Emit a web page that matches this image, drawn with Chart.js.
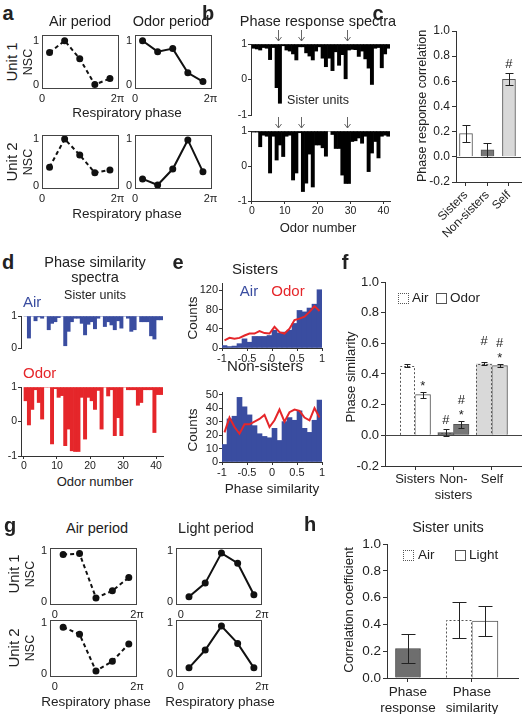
<!DOCTYPE html>
<html>
<head>
<meta charset="utf-8">
<script src="https://cdn.jsdelivr.net/npm/chart.js@4.4.1/dist/chart.umd.min.js"></script>
<style>
  body { margin: 0; width: 522px; height: 716px; position: relative; overflow: hidden; background: #fff;
         font-family: "Liberation Sans", Arial, Helvetica, sans-serif; color: #222; }
  .tx { position: absolute; white-space: nowrap; line-height: 1; }
  .sq { position: absolute; width: 9px; height: 9px; border: 1px solid #555; background: #fff; }
  canvas { position: absolute; }
</style>
</head>
<body>
<script>
'use strict';

// ---- data -------------------------------------------------------------

// a, g: normalized spike count (NSC) per respiratory phase bin
const phaseBins = [0.1, 0.3, 0.5, 0.7, 0.9];   // fraction of 2π
const aU1Air  = [0.73, 1.0, 0.59, 0.0, 0.14];
const aU1Odor = [1.0, 0.75, 0.82, 0.27, 0.07];
const aU2Air  = [0.40, 1.0, 0.66, 0.28, 0.34];
const aU2Odor = [0.15, 0.02, 0.36, 0.98, 0.30];
const gU1Air   = [0.93, 0.95, 0.08, 0.22, 0.48];
const gU1Light = [0.10, 0.37, 0.96, 0.76, 0.14];
const gU2Air   = [0.92, 0.78, 0.06, 0.25, 0.59];
const gU2Light = [0.12, 0.47, 0.94, 0.60, 0.12];

// b: phase response spectra of two sister units (42 odors)
const bUnit1 = [0.88, 0.86, 0.83, 0.90, 0.88, 0.56, 0.90, -0.23, -0.67, 0.95, 0.83, 0.80, 0.72, 0.55,
                0.92, 0.92, 0.75, 0.66, 0.55, 0.80, 0.92, 0.60, 0.36, 0.60, 0.25, 0.78, 0.40, 0.70,
                0.02, 0.83, 0.85, 0.84, 0.65, 0.80, 0.58, 0.32, -0.14, 0.88, 0.90, 0.33, 0.72, 0.88];
const bUnit2 = [0.97, 0.97, 0.55, 0.88, 0.85, -0.20, 0.85, 0.17, 0.60, 0.27, 0.85, 0.88, -0.40, -0.20,
                0.95, -0.73, -0.49, 0.34, -0.60, 0.60, 0.60, 0.52, 0.28, 1.00, 0.90, 0.50, 0.50, -0.26,
                -0.50, -0.50, 0.70, 0.72, 0.80, 0.65, 0.85, -0.16, 0.37, 0.70, 0.23, 0.85, 0.88, 0.85];
const arrowOdors = [8, 15, 29];
const odorTicks = [0, 10, 20, 30, 40];

// d: phase similarity spectra of sister units
const dAir  = [1.00, 0.31, 1.00, 0.85, 0.97, 0.93, 1.00, 0.57, 0.77, 0.82, 0.95, 1.00, 0.07, 0.52,
               0.82, 0.93, 0.93, 0.77, 0.41, 0.74, 0.82, 0.60, 0.93, 1.00, 0.67, 0.82, 0.72, 0.57,
               0.85, 0.62, 1.00, 0.93, 0.52, 0.57, 1.00, 0.82, 0.82, 0.82, 0.38, 0.28, 0.88, 0.88];
const dOdor = [0.60, -0.10, 0.35, 0.92, 0.55, 0.07, 1.00, 1.00, -0.65, 0.95, 0.70, 0.75, -0.70, -0.22,
               -0.85, -0.87, -0.87, 0.70, -0.51, 0.70, 0.60, 0.35, 0.90, -0.22, 1.00, 0.74, 0.92, -0.41,
               0.11, -0.41, 1.00, 0.92, 0.92, 0.92, 0.47, 0.55, 0.92, 0.92, 0.92, -0.32, 0.78, 0.78];

// e: phase similarity histograms
const simBins = [-0.95, -0.85, -0.75, -0.65, -0.55, -0.45, -0.35, -0.25, -0.15, -0.05,
                 0.05, 0.15, 0.25, 0.35, 0.45, 0.55, 0.65, 0.75, 0.85, 0.95];
const sisAir  = [5, 3, 4, 9, 19, 12, 24, 24, 24, 26, 37, 31, 33, 37, 51, 78, 75, 83, 91, 121];
const sisOdor = [16, 21, 19, 21, 26, 30, 30, 35, 31, 30, 44, 33, 30, 40, 58, 61, 65, 75, 87, 77];
const nonAir  = [13, 32, 34, 48, 41, 35, 27, 21, 19, 18, 25, 16, 30, 33, 31, 38, 25, 22, 31, 46];
const nonOdor = [22, 33, 26, 21, 28, 28, 30, 32, 35, 26, 31, 39, 30, 37, 39, 38, 33, 31, 40, 33];
const simTicks = [-1, -0.5, 0, 0.5, 1];

// c, f: group means and SEM
const groups = ['Sisters', 'Non-sisters', 'Self'];
const cMean = [0.185, 0.055, 0.615];
const cErr  = [0.065, 0.055, 0.048];
const cMarks = ['', '', '#'];
const fAir  = [0.455, 0.018, 0.467];
const fAirErr = [0.012, 0.025, 0.010];
const fAirMarks = ['', '#', '# '];
const fOdor = [0.265, 0.072, 0.455];
const fOdorErr = [0.020, 0.022, 0.012];
const fOdorMarks = ['*', '#*', '#*'];
const corrTicks = [-0.2, 0, 0.2, 0.4, 0.6, 0.8, 1.0];

// h: sister units, air vs light
const hGroups = [['Phase', 'response'], ['Phase', 'similarity']];
const hResp = [0.22, null];
const hRespErr = [0.11, 0];
const hAir = [null, 0.435];
const hAirErr = [0, 0.135];
const hLight = [null, 0.425];
const hLightErr = [0, 0.115];
const hTicks = [0, 0.2, 0.4, 0.6, 0.8, 1.0];

// ---- style ------------------------------------------------------------
const FONT = '"Liberation Sans", Arial, Helvetica, sans-serif';
const BLUE = '#3a4da0', RED = '#e5262a';
const groupFill = ['#ffffff', '#777777', '#d9d9d9'];
Chart.defaults.font.family = FONT;
Chart.defaults.font.size = 11;
Chart.defaults.color = '#222';
Chart.defaults.plugins.legend.display = false;
Chart.defaults.plugins.tooltip.enabled = false;

// frame, zero line, arrows, dashed bar outlines, error bars and marks
const extras = {
  id: 'extras',
  afterDatasetsDraw(chart, args, opts) {
    const ctx = chart.ctx, ca = chart.chartArea;
    const xs = chart.scales.x, ys = chart.scales.y;
    const seg = (x0, y0, x1, y1) => { ctx.beginPath(); ctx.moveTo(x0, y0); ctx.lineTo(x1, y1); ctx.stroke(); };
    ctx.save();
    ctx.lineWidth = 1;
    ctx.strokeStyle = '#444';
    if (opts.frame) ctx.strokeRect(ca.left + 0.5, ca.top + 0.5, ca.width - 1, ca.height - 1);
    if (opts.zero) {
      const y = Math.round(ys.getPixelForValue(0)) + 0.5;
      seg(ca.left, y, ca.right, y);
    }
    (opts.arrows || []).forEach(n => {
      const x = Math.round(xs.getPixelForValue(n)) + 0.5;
      const y0 = ca.top - 14, y1 = ca.top - 3;
      ctx.strokeStyle = '#666';
      seg(x, y0, x, y1);
      seg(x - 3, y1 - 4, x, y1);
      seg(x + 3, y1 - 4, x, y1);
    });
    chart.data.datasets.forEach((ds, di) => {
      const meta = chart.getDatasetMeta(di);
      if (meta.type !== 'bar' || !(ds.errors || ds.dashed || ds.marks)) return;
      meta.data.forEach((el, i) => {
        const v = meta.controller.getParsed(i).y;
        if (v == null || isNaN(v)) return;
        const p = el.getProps(['x', 'y', 'base', 'width'], true);
        if (ds.dashed) {
          const l = Math.round(p.x - p.width / 2) + 0.5, r = Math.round(p.x + p.width / 2) - 0.5;
          const t = Math.round(p.y) + 0.5;
          ctx.strokeStyle = '#555';
          ctx.setLineDash([2, 2]);
          ctx.beginPath(); ctx.moveTo(l, p.base); ctx.lineTo(l, t); ctx.lineTo(r, t); ctx.lineTo(r, p.base); ctx.stroke();
          ctx.setLineDash([]);
        }
        let topPx = p.y;
        if (ds.errors && ds.errors[i]) {
          const e = ds.errors[i], cap = opts.cap || 3;
          const yt = Math.round(ys.getPixelForValue(v + e)) + 0.5;
          const yb = Math.round(ys.getPixelForValue(v - e)) + 0.5;
          const cx = Math.round(p.x) + 0.5;
          ctx.strokeStyle = '#222';
          seg(cx, yt, cx, yb);
          seg(cx - cap, yt, cx + cap, yt);
          seg(cx - cap, yb, cx + cap, yb);
          topPx = yt;
        }
        if (ds.marks && ds.marks[i]) {
          const m = ds.marks[i];
          ctx.fillStyle = '#222';
          ctx.font = '13px ' + FONT;
          ctx.textAlign = 'center';
          ctx.textBaseline = 'middle';
          for (let k = 0; k < m.length; k++) {
            const ch = m[k];
            const y = topPx - 9 - (m.length - 1 - k) * 12 + (ch === '*' ? 3 : 0);
            ctx.fillText(ch, p.x, y);
          }
        }
      });
    });
    ctx.restore();
  }
};

// area = [left, top, right, bottom] of the plot box on the page, pad = room for axes
function makeChart(area, pad, cfg) {
  const [l, t, r, b] = area;
  const [pl, pt, pr, pb] = pad;
  const cv = document.createElement('canvas');
  const w = r - l + pl + pr, h = b - t + pt + pb;
  cv.width = w; cv.height = h;
  Object.assign(cv.style, { left: (l - pl) + 'px', top: (t - pt) + 'px', width: w + 'px', height: h + 'px' });
  document.body.appendChild(cv);
  cfg.options.responsive = false;
  cfg.options.animation = false;
  cfg.options.layout = { padding: { left: 0, top: pt, right: pr, bottom: 0 } };
  cfg.options.scales.x.afterFit = s => { s.height = pb; };
  cfg.options.scales.y.afterFit = s => { s.width = pl; };
  cfg.plugins = [extras];
  return new Chart(cv, cfg);
}

function fixedTicks(vals) {
  return s => { s.ticks = vals.map(v => ({ value: v })); };
}

function txt(s, x, y, size, o = {}) {
  const d = document.createElement('div');
  d.className = 'tx';
  d.textContent = s;
  d.style.left = x + 'px';
  d.style.top = y + 'px';
  d.style.fontSize = size + 'px';
  let tr = o.left ? 'translate(0,-50%)' : 'translate(-50%,-50%)';
  if (o.rot) tr += ' rotate(-90deg)';
  d.style.transform = tr;
  if (o.color) d.style.color = o.color;
  if (o.bold) d.style.fontWeight = 'bold';
  document.body.appendChild(d);
}

function square(x, y, dotted) {
  const d = document.createElement('div');
  d.className = 'sq';
  d.style.left = x + 'px';
  d.style.top = y + 'px';
  if (dotted) d.style.borderStyle = 'dotted';
  document.body.appendChild(d);
}

const axisGrid = (show, len) => ({ display: show, drawOnChartArea: false, drawTicks: true, tickLength: len || 4, color: '#333', offset: false });
const noGrid = { display: true, drawOnChartArea: false, drawTicks: false, offset: false };

// ---- a, g: NSC line plots ---------------------------------------------
function nscChart(area, vals, dashed, yr, xr) {
  return makeChart(area, [16, 10, 10, 16], {
    type: 'bar',
    data: { datasets: [{
      type: 'line',
      data: phaseBins.map((x, i) => ({ x, y: vals[i] })),
      borderColor: '#111', backgroundColor: '#111', borderWidth: 2,
      borderDash: dashed ? [4, 3] : [], pointRadius: 2.5, tension: 0
    }] },
    options: {
      plugins: { extras: { frame: true } },
      scales: {
        x: { type: 'linear', min: xr[0], max: xr[1], offset: false, afterBuildTicks: fixedTicks([0, 1]),
             ticks: { font: { size: 11 }, padding: 3, maxRotation: 0, autoSkip: false,
                      callback: v => (v === 0 ? '0' : '2π') },
             grid: noGrid, border: { display: false } },
        y: { type: 'linear', min: yr[0], max: yr[1], afterBuildTicks: fixedTicks([0, 1]),
             ticks: { font: { size: 11 }, padding: 3, autoSkip: false },
             grid: noGrid, border: { display: false } }
      }
    }
  });
}

nscChart([42, 35, 119, 89], aU1Air, true, [-0.1, 1.13], [0, 1.02]);
nscChart([135, 35, 212, 89], aU1Odor, false, [-0.1, 1.13], [0, 1.02]);
nscChart([42, 135, 119, 189], aU2Air, true, [-0.065, 1.085], [0, 1.02]);
nscChart([135, 135, 212, 189], aU2Odor, false, [-0.065, 1.085], [0, 1.02]);

nscChart([50, 548, 137, 605], gU1Air, true, [-0.06, 1.06], [-0.06, 1.0]);
nscChart([176, 548, 262, 605], gU1Light, false, [-0.06, 1.06], [-0.06, 1.0]);
nscChart([50, 620, 137, 677], gU2Air, true, [-0.06, 1.06], [-0.06, 1.0]);
nscChart([176, 620, 262, 677], gU2Light, false, [-0.06, 1.06], [-0.06, 1.0]);

// ---- b, d: spectra hanging from 1 ---------------------------------------
function spectrum(area, vals, color, xr, yr, yt, showX, arrows) {
  return makeChart(area, [22, arrows ? 18 : 10, 10, showX ? 16 : 10], {
    type: 'bar',
    data: { datasets: [{
      data: vals.map((v, i) => ({ x: i + 0.5, y: v })),
      base: 1, backgroundColor: color, borderWidth: 0,
      barPercentage: 1, categoryPercentage: 1
    }] },
    options: {
      plugins: { extras: { arrows: arrows || [] } },
      scales: {
        x: { type: 'linear', min: xr[0], max: xr[1], offset: false, afterBuildTicks: fixedTicks(odorTicks),
             ticks: { display: showX, font: { size: 10.5 }, padding: 1, maxRotation: 0, autoSkip: false },
             grid: axisGrid(showX, 3), border: { display: showX, color: '#333' } },
        y: { type: 'linear', min: yr[0], max: yr[1], afterBuildTicks: fixedTicks(yt),
             ticks: { font: { size: 10.5 }, padding: 1, autoSkip: false },
             grid: axisGrid(true, 3), border: { color: '#333' } }
      }
    }
  });
}

spectrum([251, 44, 390, 115], bUnit1, '#000', [-0.3, 42], [-1, 1], [-1, 0, 1], false, arrowOdors);
spectrum([251, 131, 390, 201], bUnit2, '#000', [-0.3, 42], [-1, 1], [-1, 0, 1], true, arrowOdors);
spectrum([21, 316, 163, 348], dAir, BLUE, [-0.9, 42.1], [0, 1], [0, 1], false);
spectrum([21, 387, 163, 456], dOdor, RED, [-0.9, 42.1], [-1, 1], [-1, 0, 1], true);

// ---- e: histograms --------------------------------------------------------
function histo(area, air, odor, ymax, yt) {
  return makeChart(area, [30, 10, 10, 16], {
    type: 'bar',
    data: { datasets: [
      { type: 'line', data: simBins.map((x, i) => ({ x, y: odor[i] })), borderColor: RED,
        borderWidth: 2, pointRadius: 0, tension: 0, order: 0 },
      { data: simBins.map((x, i) => ({ x, y: air[i] })), backgroundColor: BLUE, borderWidth: 0,
        barPercentage: 1, categoryPercentage: 1, order: 1 }
    ] },
    options: {
      plugins: { extras: {} },
      scales: {
        x: { type: 'linear', min: -1, max: 1, offset: false, afterBuildTicks: fixedTicks(simTicks),
             ticks: { font: { size: 11 }, padding: 1, maxRotation: 0, autoSkip: false, callback: v => String(v) },
             grid: axisGrid(true, 3), border: { color: '#333' } },
        y: { type: 'linear', min: 0, max: ymax, afterBuildTicks: fixedTicks(yt),
             ticks: { font: { size: 11 }, padding: 1, autoSkip: false },
             grid: axisGrid(true, 3), border: { color: '#333' } }
      }
    }
  });
}

histo([222, 283, 322, 348], sisAir, sisOdor, 135, [0, 40, 80, 120]);
histo([222, 392, 322, 462], nonAir, nonOdor, 52, [0, 10, 20, 30, 40, 50]);

// ---- c, f, h: bar charts with error bars -----------------------------------
const valueAxis = (min, max, ticks, size) => ({
  type: 'linear', min, max, afterBuildTicks: fixedTicks(ticks),
  ticks: { font: { size }, padding: 2, autoSkip: false, callback: v => v.toFixed(1) },
  grid: axisGrid(true, 4), border: { color: '#333' }
});
const groupAxis = (min, max, pos, labels, size, rot) => ({
  type: 'linear', min, max, offset: false, afterBuildTicks: fixedTicks(pos),
  ticks: { font: { size }, padding: 2, autoSkip: false, minRotation: rot, maxRotation: rot,
           callback: (v, i) => labels[i] },
  grid: axisGrid(true, 4), border: { color: '#333' }
});

makeChart([456, 31, 521, 182], [36, 10, 10, 62], {
  type: 'bar',
  data: { datasets: [{
    data: cMean.map((v, i) => ({ x: i + 1, y: v })), backgroundColor: groupFill,
    borderColor: '#555', borderWidth: 1, barThickness: 13, errors: cErr, marks: cMarks
  }] },
  options: {
    plugins: { extras: { zero: true, cap: 4 } },
    scales: { x: groupAxis(0.535, 3.56, [1, 2, 3], groups, 12, 45), y: valueAxis(-0.2, 1.0, corrTicks, 12) }
  }
});

makeChart([385, 282, 522, 466], [36, 10, 0, 36], {
  type: 'bar',
  data: { datasets: [
    { data: fAir.map((v, i) => ({ x: i + 1, y: v })), backgroundColor: groupFill, borderWidth: 0,
      barThickness: 15.5, errors: fAirErr, marks: fAirMarks, dashed: true },
    { data: fOdor.map((v, i) => ({ x: i + 1, y: v })), backgroundColor: groupFill, borderColor: '#555',
      borderWidth: 1, barThickness: 15.5, errors: fOdorErr, marks: fOdorMarks }
  ] },
  options: {
    plugins: { extras: { zero: true, cap: 3 } },
    scales: { x: groupAxis(0.22, 3.78, [1, 2, 3], ['Sisters', ['Non-', 'sisters'], 'Self'], 13, 0),
              y: valueAxis(-0.2, 1.0, corrTicks, 13) }
  }
});

makeChart([387, 544, 518, 678], [36, 10, 4, 36], {
  type: 'bar',
  data: { datasets: [
    { data: hResp.map((v, i) => ({ x: i + 1, y: v })), backgroundColor: '#6e6e6e', borderColor: '#444',
      borderWidth: 1, barThickness: 25, skipNull: true, errors: hRespErr },
    { data: hAir.map((v, i) => ({ x: i + 1, y: v })), backgroundColor: '#fff', borderWidth: 0,
      barThickness: 26, skipNull: true, errors: hAirErr, dashed: true },
    { data: hLight.map((v, i) => ({ x: i + 1, y: v })), backgroundColor: '#fff', borderColor: '#555',
      borderWidth: 1, barThickness: 26, skipNull: true, errors: hLightErr }
  ] },
  options: {
    plugins: { extras: { cap: 7 } },
    scales: { x: groupAxis(0.672, 2.72, [1, 2], hGroups, 13.5, 0), y: valueAxis(0, 1.0, hTicks, 13.5) }
  }
});

// ---- text -----------------------------------------------------------------
txt('a', 8, 13, 20, { bold: true });
txt('Air period', 80, 21, 14.5);
txt('Odor period', 171, 21, 14.5);
txt('Unit 1', 11, 62, 15, { rot: true });
txt('NSC', 28, 62, 12.5, { rot: true });
txt('Respiratory phase', 127, 113, 13.5);
txt('Unit 2', 11, 162, 15, { rot: true });
txt('NSC', 28, 162, 12.5, { rot: true });
txt('Respiratory phase', 127, 214, 13.5);

txt('b', 208, 13, 20, { bold: true });
txt('Phase response spectra', 318, 21, 14.5);
txt('Sister units', 318, 100, 12.5);
txt('Odor number', 318, 227, 13);

txt('c', 378, 13, 20, { bold: true });
txt('Phase response correlation', 422, 106, 12.5, { rot: true });

txt('d', 8, 262, 20, { bold: true });
txt('Phase similarity', 95, 262, 14.5);
txt('spectra', 95, 277, 14.5);
txt('Sister units', 95, 295, 12.5);
txt('Air', 23, 301, 15, { left: true, color: BLUE });
txt('Odor', 23, 372, 15, { left: true, color: RED });
txt('Odor number', 95, 481, 13);

txt('e', 178, 262, 20, { bold: true });
txt('Sisters', 255, 268, 15);
txt('Air', 249, 290, 15, { color: BLUE });
txt('Odor', 288, 290, 15, { color: RED });
txt('Counts', 193, 318, 13.5, { rot: true });
txt('Non-sisters', 265, 365, 15);
txt('Counts', 193, 430, 13.5, { rot: true });
txt('Phase similarity', 272, 489, 13.5);

txt('f', 345, 262, 20, { bold: true });
txt('Phase similarity', 350, 377, 13, { rot: true });
square(398, 293, true);
txt('Air', 412, 298, 13.5, { left: true });
square(436, 293, false);
txt('Odor', 450, 298, 13.5, { left: true });

txt('g', 10, 525, 20, { bold: true });
txt('Air period', 97, 528, 14.5);
txt('Light period', 216, 528, 14.5);
txt('Unit 1', 13, 574, 15, { rot: true });
txt('NSC', 30, 574, 12.5, { rot: true });
txt('Unit 2', 13, 648, 15, { rot: true });
txt('NSC', 30, 648, 12.5, { rot: true });
txt('Respiratory phase', 96, 702, 13.5);
txt('Respiratory phase', 220, 702, 13.5);

txt('h', 310, 524, 20, { bold: true });
txt('Sister units', 448, 527, 14.5);
txt('Correlation coefficient', 348, 610, 13, { rot: true });
square(403, 550, true);
txt('Air', 418, 555, 13.5, { left: true });
square(455, 550, false);
txt('Light', 469, 555, 13.5, { left: true });
</script>
</body>
</html>
